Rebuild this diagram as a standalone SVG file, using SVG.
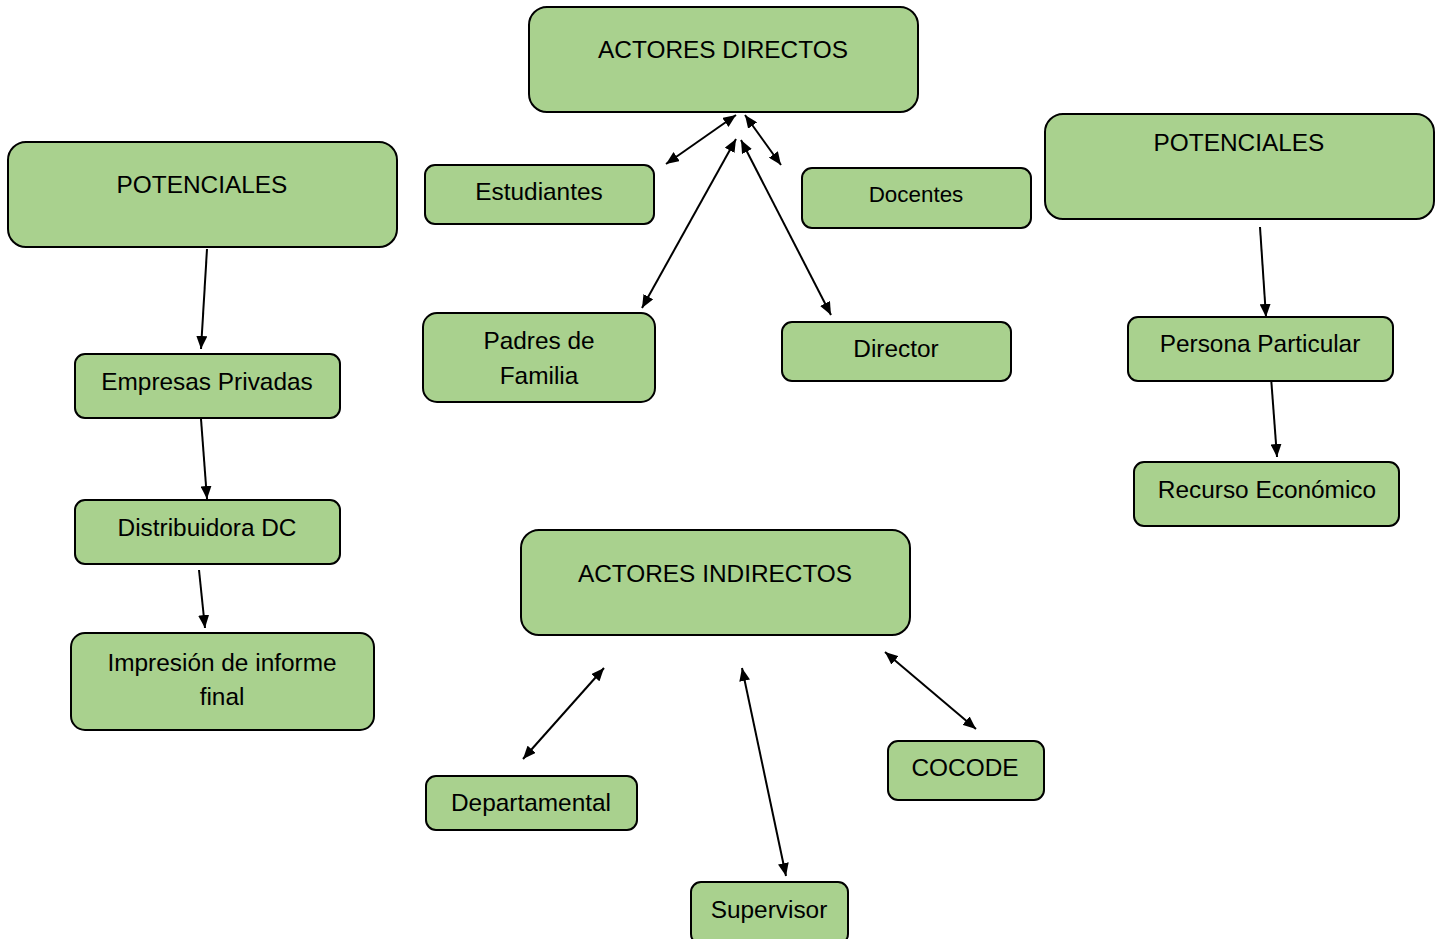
<svg xmlns="http://www.w3.org/2000/svg" width="1442" height="939" viewBox="0 0 1442 939">
<style>
.n rect{fill:#A9D18E;stroke:#000;stroke-width:2}
.n text{font-family:"Liberation Sans",Arial,sans-serif;font-size:24.4px;fill:#000;text-anchor:middle}
.c line{stroke:#000;stroke-width:2;fill:none}
</style>
<defs>
<marker id="ah" viewBox="0 0 13 11" refX="13" refY="5.5" markerWidth="13" markerHeight="11" markerUnits="userSpaceOnUse" orient="auto-start-reverse">
<path d="M0,0 L13,5.5 L0,11 Z" fill="#000"/>
</marker>
</defs>
<rect width="1442" height="939" fill="#fff"/>
<g class="c">
<line x1="666" y1="164" x2="736" y2="115" marker-start="url(#ah)" marker-end="url(#ah)"/>
<line x1="781" y1="165" x2="745" y2="115" marker-start="url(#ah)" marker-end="url(#ah)"/>
<line x1="642" y1="308" x2="736" y2="139" marker-start="url(#ah)" marker-end="url(#ah)"/>
<line x1="831" y1="315" x2="741" y2="140" marker-start="url(#ah)" marker-end="url(#ah)"/>
<line x1="207" y1="249" x2="201" y2="349" marker-end="url(#ah)"/>
<line x1="201" y1="419" x2="207" y2="499" marker-end="url(#ah)"/>
<line x1="199" y1="570" x2="205" y2="628" marker-end="url(#ah)"/>
<line x1="1260" y1="227" x2="1266" y2="317" marker-end="url(#ah)"/>
<line x1="1271" y1="377" x2="1277" y2="457" marker-end="url(#ah)"/>
<line x1="523" y1="759" x2="604" y2="668" marker-start="url(#ah)" marker-end="url(#ah)"/>
<line x1="786" y1="876" x2="742" y2="668" marker-start="url(#ah)" marker-end="url(#ah)"/>
<line x1="976" y1="729" x2="885" y2="652" marker-start="url(#ah)" marker-end="url(#ah)"/>
</g>
<g id="actores-directos" class="n"><rect x="529" y="7" width="389" height="105" rx="18"/><text x="723" y="58">ACTORES DIRECTOS</text></g>
<g id="potenciales-izq" class="n"><rect x="8" y="142" width="389" height="105" rx="18"/><text x="202" y="193">POTENCIALES</text></g>
<g id="potenciales-der" class="n"><rect x="1045" y="114" width="389" height="105" rx="18"/><text x="1239" y="151">POTENCIALES</text></g>
<g id="estudiantes" class="n"><rect x="425" y="165" width="229" height="59" rx="10"/><text x="539" y="200">Estudiantes</text></g>
<g id="docentes" class="n"><rect x="802" y="168" width="229" height="60" rx="10"/><text x="916" y="202" style="font-size:22.4px">Docentes</text></g>
<g id="padres" class="n"><rect x="423" y="313" width="232" height="89" rx="14"/><text x="539" y="349">Padres de</text><text x="539" y="384">Familia</text></g>
<g id="director" class="n"><rect x="782" y="322" width="229" height="59" rx="10"/><text x="896" y="357">Director</text></g>
<g id="persona" class="n"><rect x="1128" y="317" width="265" height="64" rx="10"/><text x="1260" y="352">Persona Particular</text></g>
<g id="recurso" class="n"><rect x="1134" y="462" width="265" height="64" rx="10"/><text x="1267" y="498">Recurso Económico</text></g>
<g id="empresas" class="n"><rect x="75" y="354" width="265" height="64" rx="10"/><text x="207" y="390">Empresas Privadas</text></g>
<g id="distribuidora" class="n"><rect x="75" y="500" width="265" height="64" rx="10"/><text x="207" y="536">Distribuidora DC</text></g>
<g id="impresion" class="n"><rect x="71" y="633" width="303" height="97" rx="14"/><text x="222" y="671">Impresión de informe</text><text x="222" y="705">final</text></g>
<g id="actores-indirectos" class="n"><rect x="521" y="530" width="389" height="105" rx="18"/><text x="715" y="582">ACTORES INDIRECTOS</text></g>
<g id="departamental" class="n"><rect x="426" y="776" width="211" height="54" rx="10"/><text x="531" y="811">Departamental</text></g>
<g id="cocode" class="n"><rect x="888" y="741" width="156" height="59" rx="10"/><text x="965" y="776">COCODE</text></g>
<g id="supervisor" class="n"><rect x="691" y="882" width="157" height="62" rx="10"/><text x="769" y="918">Supervisor</text></g>
</svg>
